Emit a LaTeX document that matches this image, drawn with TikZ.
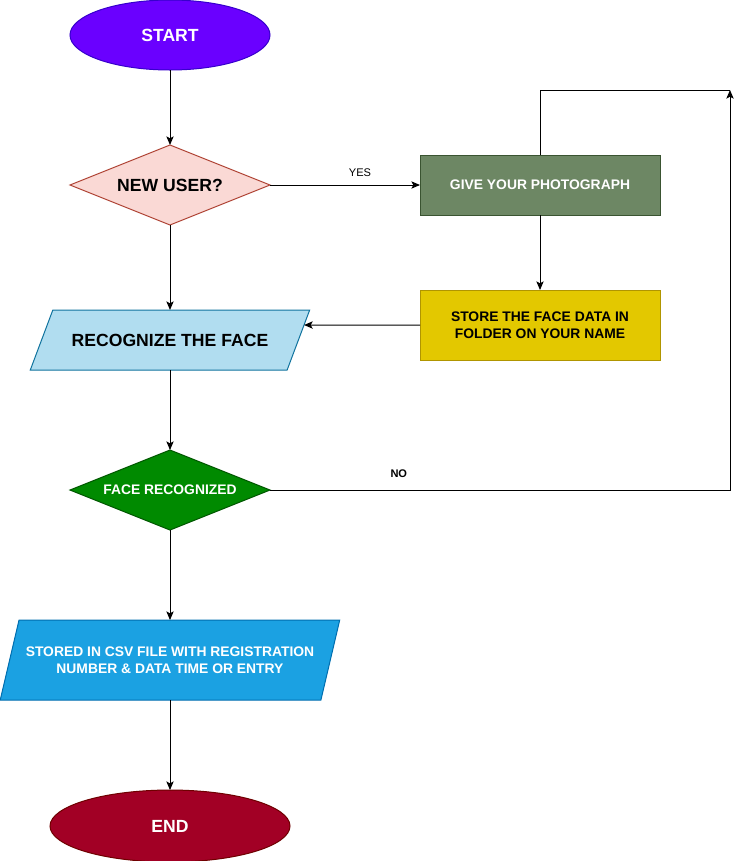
\documentclass[tikz,border=0pt]{standalone}
\usepackage{fontspec}
\setmainfont{Liberation Sans}
\definecolor{startviolet}{HTML}{6A00FF}
\definecolor{startedge}{HTML}{3700CC}
\definecolor{endred}{HTML}{A20025}
\definecolor{endedge}{HTML}{6F0000}
\definecolor{askpink}{HTML}{FAD9D5}
\definecolor{askedge}{HTML}{AE4132}
\definecolor{photogreen}{HTML}{6D8764}
\definecolor{photoedge}{HTML}{3A5431}
\definecolor{storeyellow}{HTML}{E3C800}
\definecolor{storeedge}{HTML}{B09500}
\definecolor{recoglight}{HTML}{B1DDF0}
\definecolor{recogedge}{HTML}{10739E}
\definecolor{checkgreen}{HTML}{008A00}
\definecolor{checkedge}{HTML}{005700}
\definecolor{csvblue}{HTML}{1BA1E2}
\definecolor{csvedge}{HTML}{006EAF}
\usetikzlibrary{arrows.meta, positioning, shapes.geometric, calc}

\begin{document}
\begin{tikzpicture}[
  x=0.75pt, y=-0.75pt,
  base/.style={draw, line width=0.75pt, inner sep=0pt, outer sep=0pt, align=center, font=\bfseries\fontsize{10.4}{13}\selectfont},
  big/.style={font=\bfseries\fontsize{13.2}{16}\selectfont},
  term/.style={base, big, ellipse, text=white},
  decide/.style={base, diamond, aspect=2.5, minimum width=150pt, minimum height=60pt},
  proc/.style={base, rectangle, minimum width=180pt},
  io/.style={base, trapezium, trapezium stretches=true},
  arr/.style={-{Stealth[length=6.5pt, width=5.5pt, inset=1.5pt]}, line width=0.75pt},
  link/.style={line width=0.75pt},
  lbl/.style={font=\fontsize{8.3}{10}\selectfont, inner sep=1pt}
]
  \useasboundingbox (0,0) rectangle (740,861);

  \node[term, fill=startviolet, draw=startedge, minimum width=150pt, minimum height=52.5pt] (start) at (170,35) {START};
  \node[decide, big, fill=askpink, draw=askedge, below=56.25pt of start] (newuser) {NEW USER?};
  \node[proc, fill=photogreen, draw=photoedge, text=white, minimum height=45pt, right=112.5pt of newuser] (photo) {GIVE YOUR PHOTOGRAPH};
  \node[proc, fill=storeyellow, draw=storeedge, minimum height=52.5pt, below=56.25pt of photo] (store) {STORE THE FACE DATA IN\\FOLDER ON YOUR NAME};
  \node[io, big, fill=recoglight, draw=recogedge, inner ysep=17.7pt, minimum width=210pt, minimum height=45pt,
        trapezium left angle=72.4, trapezium right angle=107.6, below=63.75pt of newuser] (recog) {RECOGNIZE THE FACE};
  \node[decide, fill=checkgreen, draw=checkedge, text=white, below=60pt of recog] (face) {FACE RECOGNIZED};
  \node[io, fill=csvblue, draw=csvedge, text=white, inner ysep=20pt, minimum width=255pt, minimum height=60pt,
        font=\bfseries\fontsize{10.4}{12.5}\selectfont,
        trapezium left angle=77.3, trapezium right angle=102.7, below=67.5pt of face] (csv) {STORED IN CSV FILE WITH REGISTRATION\\NUMBER \& DATA TIME OR ENTRY};
  \node[term, fill=endred, draw=endedge, minimum width=180pt, minimum height=54pt, below=67.5pt of csv] (end) {END};

  \coordinate (loop) at (730,90);

  % main column
  \draw[arr] (start.south) -- (newuser.north);
  \draw[arr] (newuser.south) -- (recog.north);
  \draw[arr] (recog.south) -- (face.north);
  \draw[arr] (face.south) -- (csv.north);
  \draw[arr] (csv.south) -- (end.north);

  % new user branch
  \draw[arr] (newuser.east) -- node[lbl, above=5pt, pos=0.6] {YES} (photo.west);
  \draw[arr] (photo.south) -- (store.north);
  \draw[arr] (store.west) -- ($(recog.top right corner)!0.25!(recog.bottom right corner)$);
  \draw[link] (photo.north) |- (loop);
  \draw[arr] (face.east) -| node[lbl, above=8pt, pos=0.14, font=\bfseries\fontsize{8.3}{10}\selectfont] {NO} (loop);
\end{tikzpicture}
\end{document}
